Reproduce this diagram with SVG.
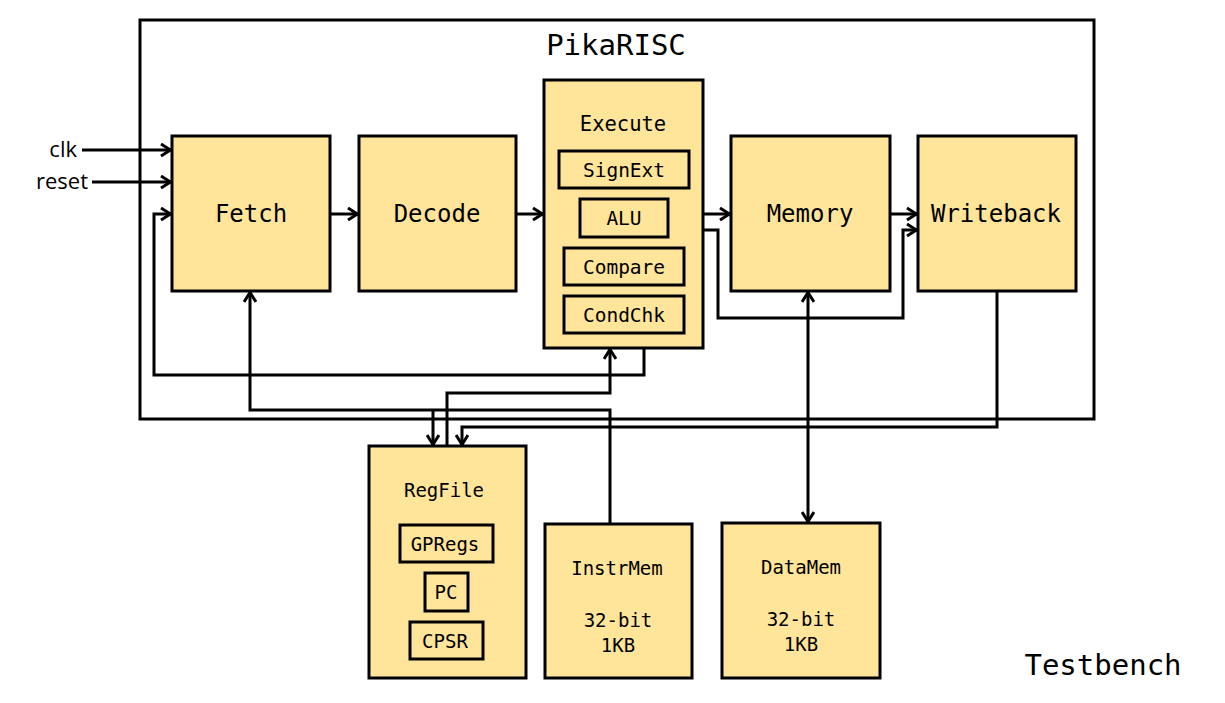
<svg xmlns="http://www.w3.org/2000/svg" width="1225" height="703" viewBox="0 0 1225 703">
<style>
.box{fill:#FFE599;stroke:#000;stroke-width:3}
.frame{fill:none;stroke:#000;stroke-width:3}
.w{fill:none;stroke:#000;stroke-width:3;stroke-linejoin:miter}
text{font-family:"DejaVu Sans Mono","Liberation Mono",monospace;fill:#000;text-anchor:middle;dominant-baseline:central}
.big{font-size:29px}
.stage{font-size:24px}
.mid{font-size:19.5px}
.sm{font-size:19px}
.sans{font-family:"Open Sans","Liberation Sans",sans-serif;font-size:22px;text-anchor:end}
</style>
<defs>
<marker id="arr" viewBox="0 0 12 14" refX="11" refY="7" markerWidth="12" markerHeight="14" markerUnits="userSpaceOnUse" orient="auto-start-reverse">
<path d="M1,1 L10.5,7 L1,13" fill="none" stroke="#000" stroke-width="3"/>
</marker>
</defs>
<rect width="1225" height="703" fill="#fff"/>

<g id="testbench">
<text class="big" x="1103" y="665">Testbench</text>
</g>

<g id="pikarisc">
<rect class="frame" x="140" y="20" width="954" height="399"/>
<text class="big" x="616" y="45">PikaRISC</text>
</g>

<g id="connectors">
<path class="w" d="M82,150 H171" marker-end="url(#arr)"/>
<path class="w" d="M92,182 H171" marker-end="url(#arr)"/>
<path class="w" d="M330,214 H358" marker-end="url(#arr)"/>
<path class="w" d="M516,214 H543" marker-end="url(#arr)"/>
<path class="w" d="M703,214 H730" marker-end="url(#arr)"/>
<path class="w" d="M890,214 H917" marker-end="url(#arr)"/>
<path class="w" d="M703,230 H718 V318 H903 V230 H917" marker-end="url(#arr)"/>
<path class="w" d="M644,348 V375 H154 V214 H171" marker-end="url(#arr)"/>
<path class="w" d="M610,524 V410 H250 V292" marker-end="url(#arr)"/>
<path class="w" d="M433,410 V445" marker-end="url(#arr)"/>
<path class="w" d="M447,446 V393 H610 V349" marker-end="url(#arr)"/>
<path class="w" d="M997,291 V427 H462 V445" marker-end="url(#arr)"/>
<path class="w" d="M808,292 V522" marker-start="url(#arr)" marker-end="url(#arr)"/>
<text class="sans" x="77" y="148">clk</text>
<text class="sans" x="88" y="180">reset</text>
</g>

<g id="fetch">
<rect class="box" x="172" y="136" width="158" height="155"/>
<text class="stage" x="251" y="214">Fetch</text>
</g>
<g id="decode">
<rect class="box" x="359" y="136" width="157" height="155"/>
<text class="stage" x="437" y="214">Decode</text>
</g>
<g id="execute">
<rect class="box" x="544" y="80" width="159" height="268"/>
<text class="mid" x="623" y="124" style="font-size:20.5px">Execute</text>
<rect class="box" x="559" y="151" width="130" height="37"/>
<text class="mid" x="624" y="170">SignExt</text>
<rect class="box" x="580" y="199" width="88" height="38"/>
<text class="mid" x="624" y="218">ALU</text>
<rect class="box" x="564" y="248" width="120" height="37"/>
<text class="mid" x="624" y="267">Compare</text>
<rect class="box" x="564" y="296" width="120" height="37"/>
<text class="mid" x="624" y="315">CondChk</text>
</g>
<g id="memory">
<rect class="box" x="731" y="136" width="159" height="155"/>
<text class="stage" x="810" y="214">Memory</text>
</g>
<g id="writeback">
<rect class="box" x="918" y="136" width="158" height="155"/>
<text class="stage" x="996" y="214">Writeback</text>
</g>
<g id="regfile">
<rect class="box" x="369" y="446" width="157" height="232"/>
<text class="sm" x="444" y="490">RegFile</text>
<rect class="box" x="400" y="525" width="93" height="37"/>
<text class="sm" x="445" y="544">GPRegs</text>
<rect class="box" x="425" y="573" width="43" height="38"/>
<text class="sm" x="446" y="592">PC</text>
<rect class="box" x="410" y="622" width="73" height="37"/>
<text class="sm" x="445" y="641">CPSR</text>
</g>
<g id="instrmem">
<rect class="box" x="545" y="524" width="147" height="154"/>
<text class="sm" x="617" y="568">InstrMem</text>
<text class="sm" x="618" y="620">32-bit</text>
<text class="sm" x="618" y="645">1KB</text>
</g>
<g id="datamem">
<rect class="box" x="722" y="523" width="158" height="155"/>
<text class="sm" x="801" y="567">DataMem</text>
<text class="sm" x="801" y="619">32-bit</text>
<text class="sm" x="801" y="644">1KB</text>
</g>
</svg>
